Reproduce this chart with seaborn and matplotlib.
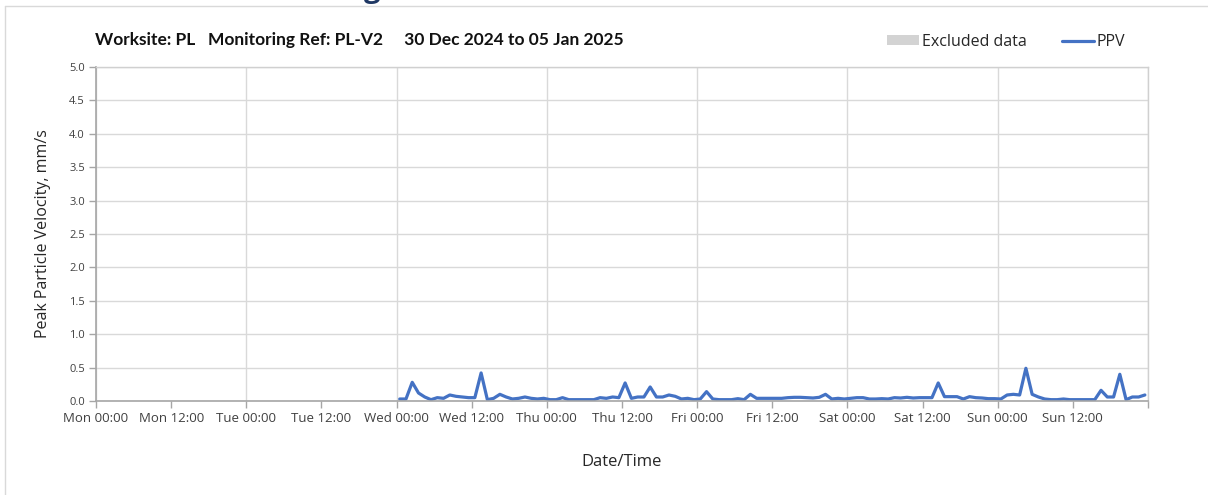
import pandas as pd
import numpy as np
import matplotlib
matplotlib.use("Agg")
import matplotlib.pyplot as plt
import matplotlib.dates as mdates
from matplotlib.patches import Patch
from matplotlib.lines import Line2D
import seaborn as sns

# hourly PPV readings (mm/s), Wed 01 Jan 00:30 .. Sun 05 Jan 23:30
ppv_wed = [0.03, 0.03, 0.28, 0.12, 0.06, 0.02, 0.05, 0.04, 0.09, 0.07, 0.06, 0.05,
           0.05, 0.42, 0.02, 0.04, 0.10, 0.06, 0.03, 0.04, 0.06, 0.04, 0.03, 0.04]
ppv_thu = [0.02, 0.02, 0.05, 0.02, 0.02, 0.02, 0.02, 0.02, 0.05, 0.04, 0.06, 0.05,
           0.27, 0.04, 0.06, 0.06, 0.21, 0.06, 0.06, 0.09, 0.07, 0.03, 0.04, 0.02]
ppv_fri = [0.03, 0.14, 0.03, 0.02, 0.02, 0.02, 0.035, 0.02, 0.10, 0.04, 0.04, 0.04,
           0.04, 0.04, 0.05, 0.055, 0.055, 0.05, 0.045, 0.055, 0.10, 0.03, 0.04, 0.03]
ppv_sat = [0.04, 0.05, 0.05, 0.03, 0.03, 0.035, 0.03, 0.05, 0.045, 0.055, 0.045, 0.05,
           0.05, 0.05, 0.27, 0.065, 0.065, 0.065, 0.03, 0.065, 0.05, 0.045, 0.035, 0.035]
ppv_sun = [0.03, 0.09, 0.10, 0.09, 0.49, 0.10, 0.06, 0.03, 0.02, 0.02, 0.03, 0.02,
           0.02, 0.02, 0.02, 0.02, 0.16, 0.06, 0.06, 0.40, 0.02, 0.06, 0.06, 0.09]

ppv = ppv_wed + ppv_thu + ppv_fri + ppv_sat + ppv_sun
times = pd.date_range("2025-01-01 00:30", periods=len(ppv), freq="h")

x_ticks = pd.date_range("2024-12-30 00:00", "2025-01-06 00:00", freq="12h")
x_labels = ["Mon 00:00", "Mon 12:00", "Tue 00:00", "Tue 12:00", "Wed 00:00", "Wed 12:00",
            "Thu 00:00", "Thu 12:00", "Fri 00:00", "Fri 12:00", "Sat 00:00", "Sat 12:00",
            "Sun 00:00", "Sun 12:00", ""]
y_ticks = [0.0, 0.5, 1.0, 1.5, 2.0, 2.5, 3.0, 3.5, 4.0, 4.5, 5.0]

df = pd.DataFrame({"time": times, "ppv": ppv})

sns.set_theme(style="white")
plt.rcParams["font.family"] = ["Open Sans", "DejaVu Sans"]

fig = plt.figure(figsize=(12.08, 4.95), dpi=100)
ax = fig.add_axes([96 / 1208, 1 - 401 / 495, (1148 - 96) / 1208, (401 - 67) / 495])

sns.lineplot(data=df, x="time", y="ppv", ax=ax, color="#4472C4", linewidth=2.3)

ax.set_xlim(x_ticks[0], x_ticks[-1])
ax.set_ylim(0, 5)
ax.set_xticks(x_ticks)
ax.set_xticklabels(x_labels, fontsize=9.5, color="#404040")
ax.xaxis.set_minor_locator(mdates.DayLocator())
ax.xaxis.remove_overlapping_locs = False
ax.set_yticks(y_ticks)
ax.set_yticklabels([f"{v:.1f}" for v in y_ticks], fontsize=8, color="#404040")

ax.grid(True, which="major", axis="y", color="#d9d9d9", linewidth=1)
ax.grid(True, which="minor", axis="x", color="#d9d9d9", linewidth=1)
ax.tick_params(axis="both", which="major", direction="out", length=5, width=1,
               color="#a6a6a6", pad=3, bottom=True, left=True)
ax.tick_params(axis="x", which="minor", length=0)
for side in ["left", "bottom"]:
    ax.spines[side].set_color("#a6a6a6")
    ax.spines[side].set_linewidth(1.2)
for side in ["top", "right"]:
    ax.spines[side].set_color("#d0d0d0")
    ax.spines[side].set_linewidth(1)

ax.set_xlabel("Date/Time", fontsize=12, color="#262626", labelpad=21)
ax.set_ylabel("Peak Particle Velocity, mm/s", fontsize=11.5, color="#262626", labelpad=13)

fig.text(95 / 1208, 1 - 40 / 495, "Worksite: PL   Monitoring Ref: PL-V2     30 Dec 2024 to 05 Jan 2025",
         fontsize=12.5, fontweight="bold", color="#111111", va="center", family=["Lato", "DejaVu Sans"])

# cut-off page heading above the chart
fig.text(364 / 1208, 1 + 3 / 495, "g", fontsize=21, fontweight="bold", color="#1f3864",
         va="baseline", family=["Open Sans", "DejaVu Sans"])

# page frame
fig.add_artist(Line2D([5 / 1208, 5 / 1208], [0, 1 - 6 / 495], transform=fig.transFigure,
                      color="#d9d9d9", linewidth=1))
fig.add_artist(Line2D([5 / 1208, 1], [1 - 6 / 495, 1 - 6 / 495], transform=fig.transFigure,
                      color="#d9d9d9", linewidth=1))

handles = [Patch(facecolor="#d3d3d3", edgecolor="none", label="Excluded data"),
           Line2D([0], [0], color="#4472C4", linewidth=2.3, label="PPV")]
fig.legend(handles=handles, loc="center", bbox_to_anchor=(1006 / 1208, 1 - 42 / 495), ncol=2,
           frameon=False, fontsize=11.5, handlelength=2.0, handleheight=0.6, handletextpad=0.2,
           columnspacing=2.2, labelcolor="#262626")

fig.savefig("out.png", dpi=100)
